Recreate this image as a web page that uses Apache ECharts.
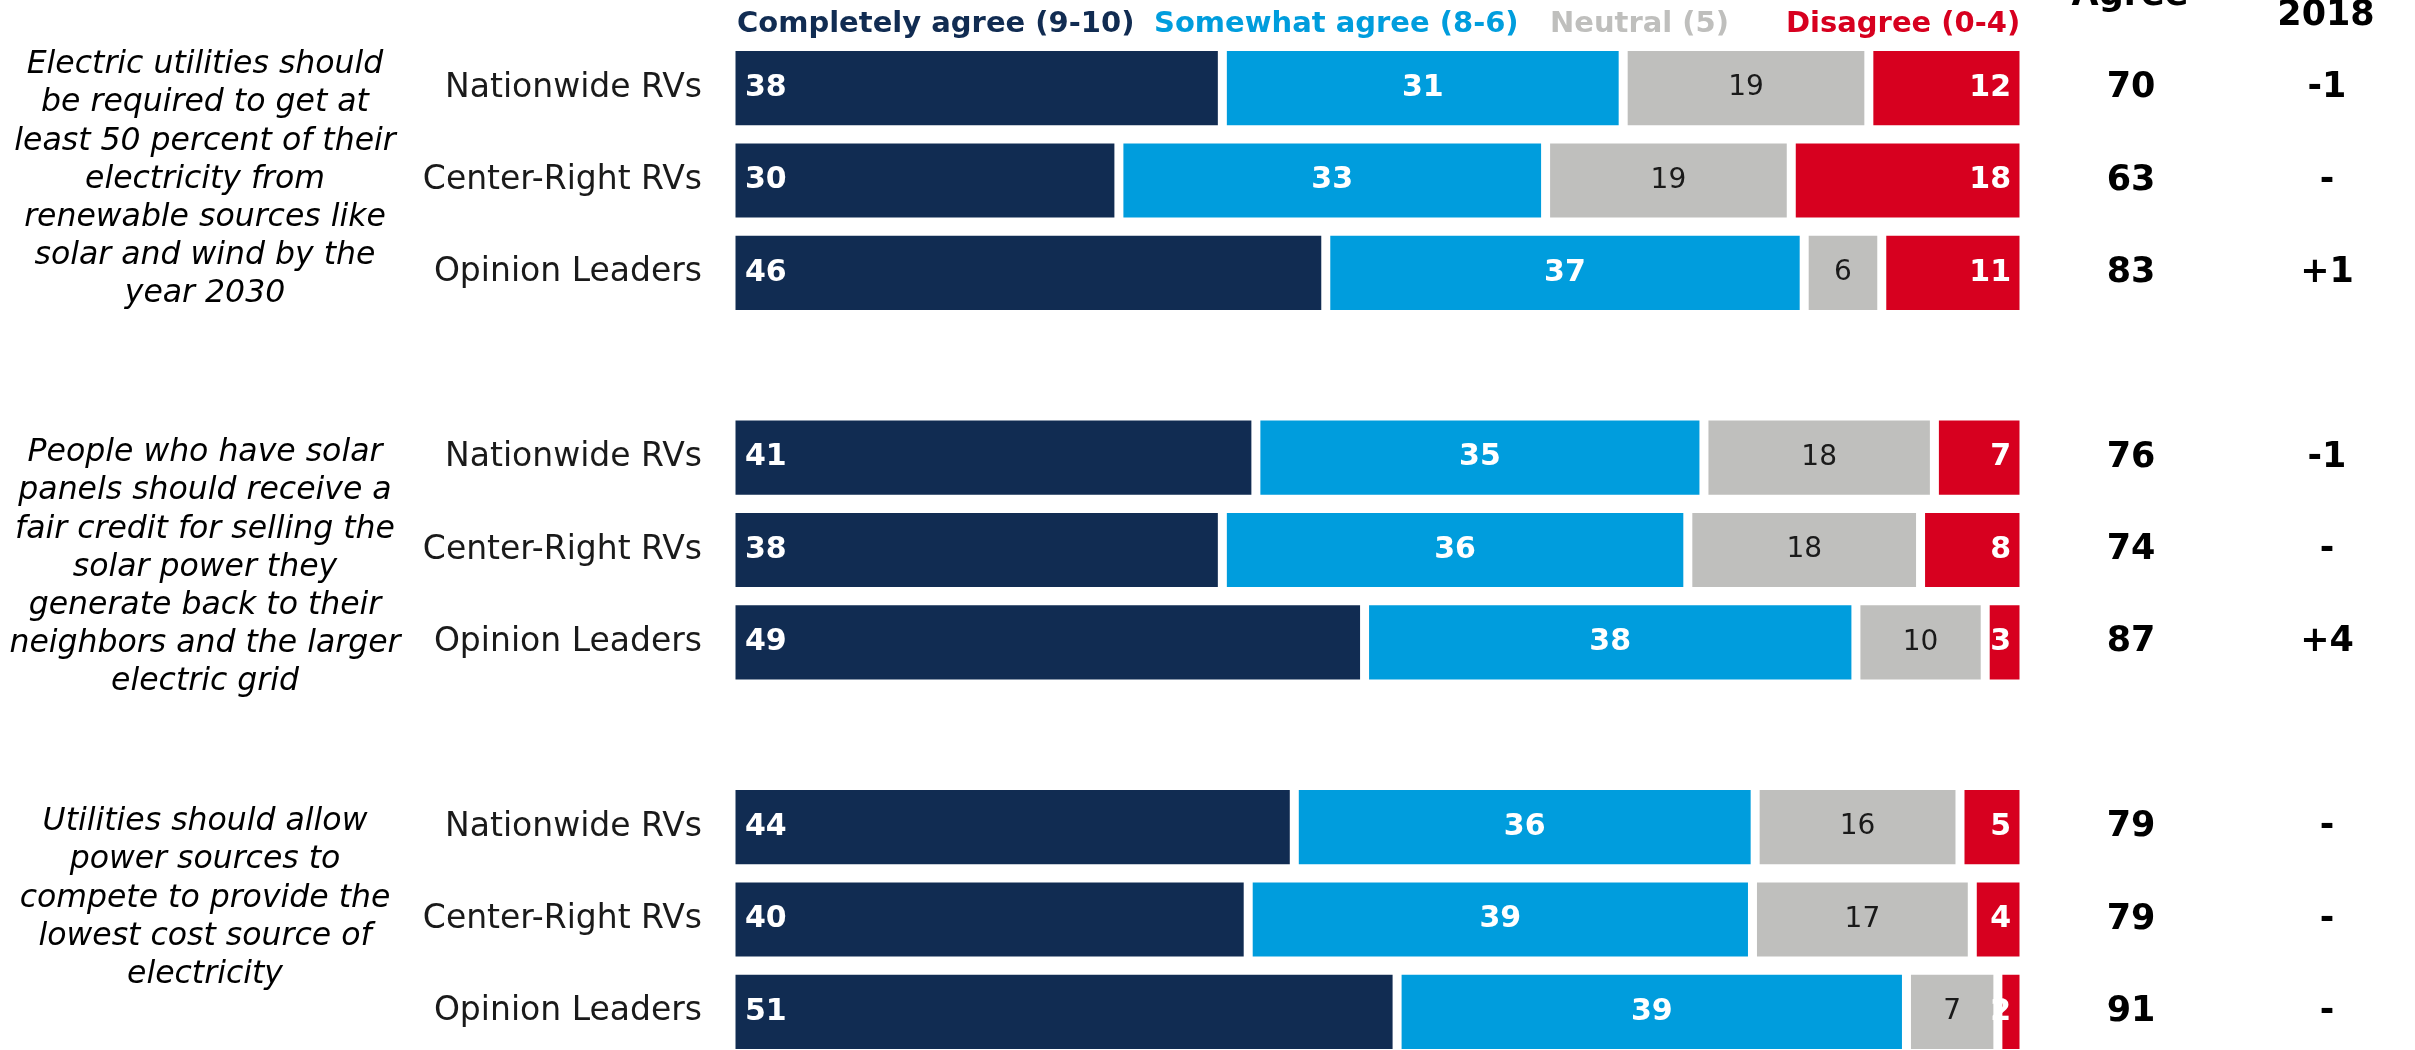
<!DOCTYPE html>
<html>
<head>
<meta charset="utf-8">
<script src="https://cdn.jsdelivr.net/npm/echarts@6/dist/echarts.min.js"></script>
<style>
  html, body { margin: 0; padding: 0; background: #fff; }
  #chart { width: 2415px; height: 1050px; }
</style>
</head>
<body>
<div id="chart"></div>
<script>
// 数据
var seriesNames = ["Completely agree (9-10)", "Somewhat agree (8-6)", "Neutral (5)", "Disagree (0-4)"];
var seriesColors = ["#112c52", "#009ddd", "#bfbfbd", "#d7001f"];
var segments = ["Nationwide RVs", "Center-Right RVs", "Opinion Leaders"];
var questions = [
    "Electric utilities should\nbe required to get at\nleast 50 percent of their\nelectricity from\nrenewable sources like\nsolar and wind by the\nyear 2030",
    "People who have solar\npanels should receive a\nfair credit for selling the\nsolar power they\ngenerate back to their\nneighbors and the larger\nelectric grid",
    "Utilities should allow\npower sources to\ncompete to provide the\nlowest cost source of\nelectricity"
];
var completelyAgree = [38, 30, 46, 41, 38, 49, 44, 40, 51];
var somewhatAgree = [31, 33, 37, 35, 36, 38, 36, 39, 39];
var neutral = [19, 19, 6, 18, 18, 10, 16, 17, 7];
var disagree = [12, 18, 11, 7, 8, 3, 5, 4, 2];
var totalAgree = [70, 63, 83, 76, 74, 87, 79, 79, 91];
var change2018 = ["-1", "-", "+1", "-1", "-", "+4", "-", "-", "-"];

var FONT = "'DejaVu Sans', sans-serif";

// 每组三行，组与组之间空一行
var rows = [];
var catLabels = [];
for (let g = 0; g < 3; g++) {
    for (let s = 0; s < 3; s++) {
        rows.push(g * 3 + s);
        catLabels.push(segments[s]);
    }
    if (g < 2) {
        rows.push(null);
        catLabels.push("");
    }
}

var allValues = [completelyAgree, somewhatAgree, neutral, disagree];
var rowSum = completelyAgree.map((v, i) => v + somewhatAgree[i] + neutral[i] + disagree[i]);

function makeData(vals) {
    return rows.map(function (i) {
        if (i === null) return "-";
        // 按行总和缩放到 100，标签显示原值
        return { value: vals[i] / rowSum[i] * 100, raw: vals[i] };
    });
}

var labelStyles = [
    { position: "insideLeft", distance: 14, color: "#fff", fontWeight: "bold", fontSize: 30 },
    { position: "inside", color: "#fff", fontWeight: "bold", fontSize: 30 },
    { position: "inside", color: "#1a1a1a", fontWeight: "normal", fontSize: 28 },
    { position: "insideRight", distance: 13, color: "#fff", fontWeight: "bold", fontSize: 30 }
];

var series = seriesNames.map(function (name, k) {
    return {
        name: name,
        type: "bar",
        stack: "total",
        yAxisIndex: 0,
        barCategoryGap: "10%",
        data: makeData(allValues[k]),
        itemStyle: { color: seriesColors[k], borderColor: "#fff", borderWidth: 4.5 },
        label: Object.assign({
            show: true,
            fontFamily: FONT,
            formatter: function (p) { return p.data && p.data.raw !== undefined ? p.data.raw : ""; }
        }, labelStyles[k]),
        emphasis: { disabled: true },
        silent: true
    };
});

var legendLeft = [731, 1148, 1544, 1780];
var legends = seriesNames.map(function (name, k) {
    return {
        data: [{ name: name, textStyle: { color: seriesColors[k] } }],
        left: legendLeft[k],
        top: 10,
        padding: 0,
        itemWidth: 0,
        itemHeight: 0,
        selectedMode: false,
        textStyle: { fontFamily: FONT, fontWeight: "bold", fontSize: 29 }
    };
});

function rightAxis(texts, margin) {
    return {
        type: "category",
        position: "right",
        offset: 0,
        inverse: true,
        data: rows.map(i => (i === null ? "" : texts[i])),
        axisLine: { show: false },
        axisTick: { show: false },
        splitLine: { show: false },
        axisLabel: {
            margin: margin,
            align: "center",
            color: "#000",
            fontFamily: FONT,
            fontWeight: "bold",
            fontSize: 35
        }
    };
}

var questionY = [46, 434, 803];
var graphics = questions.map(function (q, i) {
    return {
        type: "text",
        x: 205,
        y: questionY[i],
        style: {
            text: q,
            align: "center",
            verticalAlign: "top",
            fill: "#000",
            font: "italic 31.5px " + FONT,
            lineHeight: 38.2
        }
    };
});
graphics.push({
    type: "text",
    x: 2130,
    y: -22,
    style: { text: "Agree", align: "center", fill: "#000", font: "bold 35px " + FONT }
});
graphics.push({
    type: "text",
    x: 2326,
    y: -2,
    style: { text: "2018", align: "center", fill: "#000", font: "bold 35px " + FONT }
});

var chart = echarts.init(document.getElementById("chart"));
var option = {
    animation: false,
    backgroundColor: "#fff",
    legend: legends,
    grid: {
        left: 731,
        right: 391,
        top: 42,
        height: 1016,
        containLabel: false,
        outerBoundsMode: "none"
    },
    xAxis: {
        type: "value",
        min: 0,
        max: 100,
        show: false
    },
    yAxis: [
        {
            type: "category",
            inverse: true,
            data: catLabels,
            axisLine: { show: false },
            axisTick: { show: false },
            splitLine: { show: false },
            axisLabel: {
                margin: 29,
                color: "#1a1a1a",
                fontFamily: FONT,
                fontSize: 33
            }
        },
        rightAxis(totalAgree, 107),
        rightAxis(change2018, 303)
    ],
    graphic: graphics,
    series: series
};
chart.setOption(option);
</script>
</body>
</html>
